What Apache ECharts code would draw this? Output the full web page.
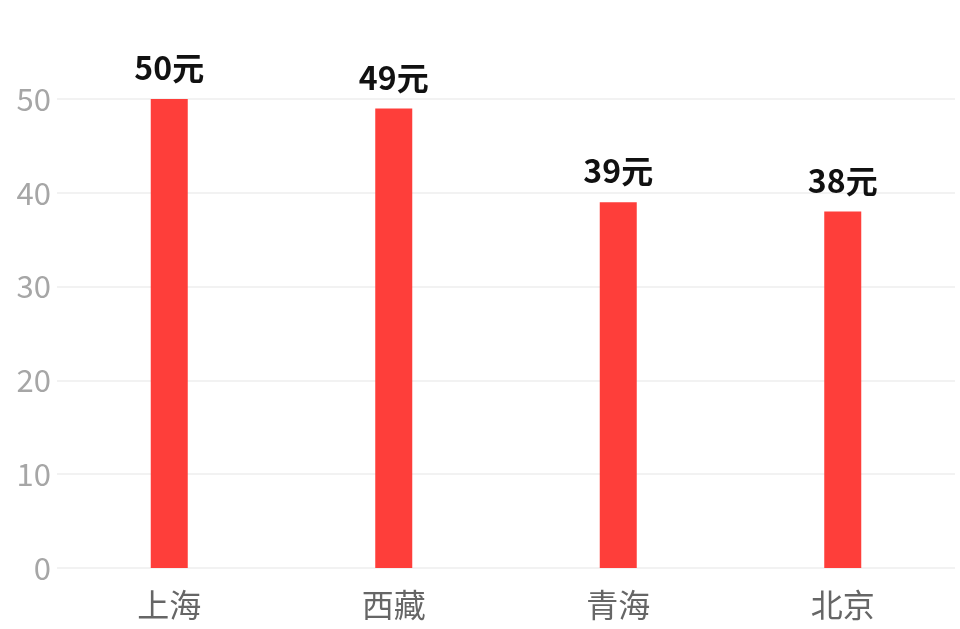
<!DOCTYPE html>
<html><head><meta charset="utf-8">
<script src="https://cdn.jsdelivr.net/npm/echarts@6/dist/echarts.min.js"></script>
<style>html,body{margin:0;padding:0;background:#fff}#c{width:960px;height:629px}</style>
</head><body><div id="c"></div>
<script>
const categories = ['上海', '西藏', '青海', '北京'];
const values = [50, 49, 39, 38];
const unit = '元';
const chart = echarts.init(document.getElementById('c'));
chart.setOption({
  animation: false,
  textStyle: { fontFamily: 'Noto Sans CJK SC' },
  grid: { left: 57, right: 5, top: 99, bottom: 61 },
  xAxis: {
    type: 'category', data: categories,
    axisLine: { show: false }, axisTick: { show: false },
    axisLabel: { color: '#666', fontSize: 32, margin: 21, fontFamily: 'Noto Sans CJK SC' }
  },
  yAxis: {
    type: 'value', min: 0, max: 50, interval: 10,
    axisLine: { show: false }, axisTick: { show: false },
    splitLine: { lineStyle: { color: '#f2f2f2', width: 2 } },
    axisLabel: { color: '#a6a6a6', fontSize: 31, margin: 6, fontFamily: 'Noto Sans CJK SC' }
  },
  series: [{
    type: 'bar', data: values, barWidth: 37,
    itemStyle: { color: '#fe3e3a' },
    label: { show: true, position: 'top', distance: 15, color: '#111', fontSize: 32, fontWeight: 'bold',
      fontFamily: 'Noto Sans CJK SC', formatter: p => p.value + unit }
  }]
});
</script></body></html>
